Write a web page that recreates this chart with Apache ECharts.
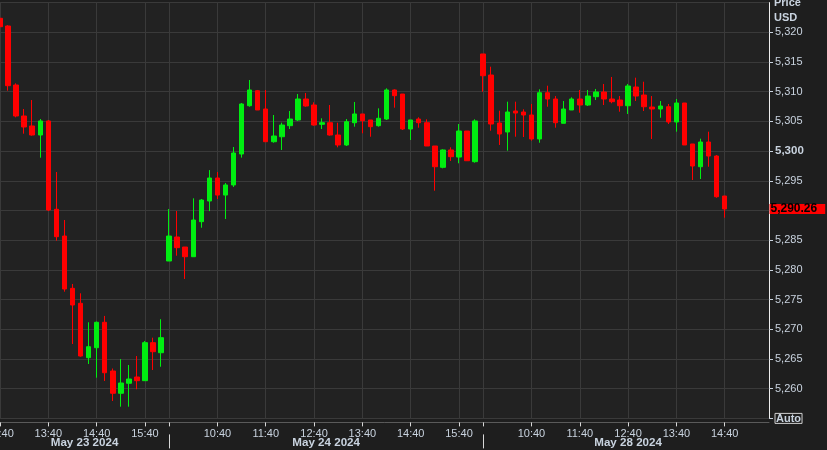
<!DOCTYPE html>
<html><head><meta charset="utf-8">
<script src="https://cdn.jsdelivr.net/npm/echarts@6/dist/echarts.min.js"></script>
<style>html,body{margin:0;padding:0;background:#1e1e1e}#c{width:827px;height:450px}</style>
</head><body><div id="c"></div>
<script>
// ---------- data ----------
const dayNames = ['May 23 2024', 'May 24 2024', 'May 28 2024'];
const timesMay23 = ['12:40','12:50','13:00','13:10','13:20','13:30','13:40','13:50','14:00','14:10','14:20','14:30','14:40','14:50','15:00','15:10','15:20','15:30','15:40','15:50','16:00'];
const timesMay24 = ['09:40','09:50','10:00','10:10','10:20','10:30','10:40','10:50','11:00','11:10','11:20','11:30','11:40','11:50','12:00','12:10','12:20','12:30','12:40','12:50','13:00','13:10','13:20','13:30','13:40','13:50','14:00','14:10','14:20','14:30','14:40','14:50','15:00','15:10','15:20','15:30','15:40','15:50','16:00'];
const timesMay28 = ['09:40','09:50','10:00','10:10','10:20','10:30','10:40','10:50','11:00','11:10','11:20','11:30','11:40','11:50','12:00','12:10','12:20','12:30','12:40','12:50','13:00','13:10','13:20','13:30','13:40','13:50','14:00','14:10','14:20','14:30','14:40'];
const timesAhead = ['14:50','15:00','15:10','15:20','15:30'];

const opens = [5322.36,5321.06,5311.13,5305.91,5304.23,5302.71,5305.07,5290.20,5285.70,5276.90,5274.38,5265.22,5266.90,5271.18,5262.98,5259.23,5260.91,5261.97,5261.35,5267.75,5266.06,
 5281.50,5285.54,5283.85,5282.22,5288.12,5291.60,5295.47,5292.60,5294.30,5299.51,5307.64,5310.17,5307.09,5301.58,5302.42,5304.28,5305.24,5308.77,5307.76,5304.51,5304.78,5302.71,5301.03,5304.78,5306.25,5305.24,5304.28,5305.40,5310.29,5309.61,5303.72,5305.40,5304.78,5300.86,5297.27,5300.19,5299.00,5303.38,5298.22,
 5316.35,5312.81,5304.73,5303.22,5306.75,5306.58,5306.08,5302.04,5309.83,5308.77,5304.68,5306.92,5308.77,5307.76,5309.16,5309.95,5308.77,5308.60,5307.64,5310.79,5309.44,5307.42,5307.09,5307.47,5304.90,5308.10,5301.20,5297.37,5301.53,5299.17,5292.44];
const closes = [5320.94,5311.01,5305.91,5304.06,5302.71,5305.07,5290.08,5285.59,5276.78,5274.09,5265.50,5267.07,5271.18,5262.69,5259.23,5260.96,5261.63,5261.35,5267.75,5266.23,5268.59,
 5285.70,5283.74,5282.22,5288.40,5291.76,5295.47,5292.60,5294.30,5299.68,5307.93,5310.29,5306.92,5301.58,5302.54,5304.39,5305.40,5308.77,5307.59,5304.39,5304.78,5302.71,5301.03,5304.95,5306.25,5305.12,5304.11,5305.52,5310.29,5309.33,5303.72,5305.24,5304.78,5300.86,5297.37,5300.19,5299.06,5303.38,5298.38,5305.07,
 5312.69,5304.56,5302.88,5306.58,5306.41,5306.08,5302.04,5309.83,5308.77,5304.78,5307.09,5308.77,5307.76,5309.27,5309.95,5308.77,5308.32,5307.64,5310.96,5309.27,5307.47,5307.09,5307.59,5304.90,5308.10,5301.03,5297.49,5301.53,5299.17,5292.32,5290.26];
const lows = [5320.90,5310.17,5305.69,5302.93,5302.60,5298.89,5289.92,5284.92,5276.33,5267.53,5265.39,5264.16,5261.85,5261.30,5257.93,5256.97,5256.97,5259.90,5261.35,5263.15,5263.70,
 5281.50,5282.39,5278.47,5282.22,5287.10,5289.90,5291.93,5288.57,5293.96,5298.90,5307.47,5306.92,5301.58,5301.41,5300.19,5303.72,5305.07,5307.47,5304.28,5303.72,5302.60,5300.64,5300.86,5304.11,5303.00,5302.42,5304.11,5305.24,5307.31,5303.55,5301.87,5303.94,5300.86,5293.33,5297.10,5298.33,5297.95,5298.38,5298.05,
 5310.00,5303.43,5301.03,5300.07,5302.42,5302.37,5301.75,5301.41,5307.47,5303.94,5304.68,5306.92,5306.46,5307.59,5308.60,5307.76,5308.05,5306.63,5306.25,5308.43,5306.75,5302.04,5305.62,5304.56,5303.27,5301.03,5295.13,5295.30,5297.37,5292.15,5288.79];
const highs = [5323.75,5321.20,5311.41,5307.09,5308.60,5305.40,5305.24,5296.48,5288.40,5277.63,5276.06,5271.18,5271.30,5272.25,5263.40,5264.99,5263.99,5265.50,5268.03,5268.59,5271.70,
 5290.25,5289.92,5283.85,5292.05,5291.93,5296.80,5296.48,5294.63,5300.69,5308.10,5311.97,5310.29,5310.29,5306.08,5304.78,5306.75,5309.61,5309.78,5308.21,5305.52,5307.76,5304.78,5305.40,5308.27,5306.25,5305.24,5307.20,5310.57,5310.40,5309.61,5305.24,5305.69,5305.35,5300.86,5300.30,5300.64,5304.56,5303.38,5305.35,
 5316.35,5314.21,5306.80,5308.32,5308.32,5307.04,5307.93,5310.40,5311.01,5309.27,5308.43,5309.05,5310.29,5310.29,5310.46,5311.30,5312.48,5309.27,5311.30,5312.36,5311.68,5309.27,5308.43,5307.93,5308.77,5308.10,5301.20,5302.09,5303.27,5299.34,5292.44];

const yMin = 5255, yMax = 5325, yStep = 5;

// ---------- derived ----------
const dayTimes = [timesMay23, timesMay24, timesMay28];
const categories = [].concat(timesMay23, timesMay24, timesMay28, timesAhead);
const N = categories.length;
const nData = opens.length;
const dayStarts = [];
{ let s = 0; dayTimes.forEach(t => { dayStarts.push(s); s += t.length; }); }
const candles = categories.map((c, i) => i < nData ? [opens[i], closes[i], lows[i], highs[i]] : '-');
const lastClose = closes[nData - 1];

const isDayStart = i => dayStarts.indexOf(i) > 0;
const isHour = i => i < nData && categories[i].endsWith(':40') && !isDayStart(i);
// secondary axis on half-category steps
const halfSlots = Array.from({length: 2 * N + 1}, (_, j) => 'h' + j);
const sepHalf = dayStarts.slice(1).map(s => 2 * s + 1);
const gridHalf = new Set(sepHalf);
categories.forEach((c, i) => { if (isHour(i)) gridHalf.add(2 * i + 1); });
const bounds = [1].concat(sepHalf, [2 * N]);
const dateLabelAt = new Map();
dayNames.forEach((d, k) => dateLabelAt.set(Math.round((bounds[k] + bounds[k + 1]) / 2), d));

const FONT = '"Liberation Sans", Arial, sans-serif';
const TXT = '#c9d3df';

const chart = echarts.init(document.getElementById('c'), null, {renderer: 'canvas'});
chart.setOption({
  animation: false,
  backgroundColor: '#1e1e1e',
  grid: { left: -4, right: 58, top: 2.6, bottom: 31.6, show: true, backgroundColor: '#222222', borderWidth: 0, containLabel: false, outerBoundsMode: 'none' },
  xAxis: [
    {
      type: 'category', data: categories, position: 'bottom', offset: 4,
      axisLine: { show: true, lineStyle: { color: '#5a5a5a' } },
      axisTick: { show: true, alignWithLabel: true, length: 4, interval: (i) => isHour(i) || isDayStart(i), lineStyle: { color: '#d8d8d8' } },
      axisLabel: { interval: (i) => isHour(i), formatter: v => v.replace(/^0/, ''), color: TXT, fontSize: 11, fontFamily: FONT, margin: 6, hideOverlap: false },
      splitLine: { show: false }
    },
    {
      type: 'category', data: halfSlots, position: 'bottom', offset: 16, boundaryGap: false,
      axisLine: { show: false },
      axisTick: { show: true, length: 14, interval: (j) => sepHalf.indexOf(j) >= 0, lineStyle: { color: '#d8d8d8' } },
      axisLabel: { interval: (j) => dateLabelAt.has(j), formatter: (v, j) => dateLabelAt.get(j) || '', color: TXT, fontSize: 11.6, fontWeight: 'bold', fontFamily: FONT, margin: 2 },
      splitLine: { show: true, interval: (j) => gridHalf.has(j), lineStyle: { color: '#3a3a3a' } }
    }
  ],
  yAxis: {
    type: 'value', position: 'right', min: yMin, max: yMax, interval: yStep,
    axisLine: { show: true, lineStyle: { color: '#eeeeee' } },
    axisTick: { show: true, length: 4, lineStyle: { color: TXT } },
    axisLabel: {
      margin: 6, color: TXT, fontSize: 11, fontFamily: FONT, showMaxLabel: false, showMinLabel: true,
      formatter: v => {
        if (v === yMin) return '{auto|Auto}';
        if (Math.abs(v - lastClose) < 2) return '';
        const s = v.toLocaleString('en-US');
        return v % 100 === 0 ? '{b|' + s + '}' : s;
      },
      rich: {
        b: { fontWeight: 'bold', fontSize: 11.5, color: TXT, fontFamily: FONT },
        auto: { fontWeight: 'bold', fontSize: 11, color: TXT, fontFamily: FONT, borderColor: '#cfcfcf', borderWidth: 1, padding: [0, 1, -1, 1], lineHeight: 12 }
      }
    },
    splitLine: { show: true, lineStyle: { color: '#3a3a3a' } }
  },
  series: [{
    type: 'candlestick', data: candles, barWidth: 5,
    itemStyle: { color: '#00ee11', color0: '#ff0000', borderColor: '#00ee11', borderColor0: '#ff0000', borderWidth: 1 }
  }]
});

// current-price tag, placed through the chart's own y scale
const gridRect = chart.getModel().getComponent('grid', 0).coordinateSystem.getRect();
const tagY = chart.convertToPixel({ yAxisIndex: 0 }, lastClose);
chart.setOption({
  graphic: [
    { type: 'text', left: 774, top: -5, style: { text: 'Price\nUSD', fill: TXT, font: 'bold 11px ' + FONT, lineHeight: 15 } },
    { type: 'line', shape: { x1: 0, y1: 422.5, x2: 17, y2: 422.5 }, style: { stroke: '#ffffff', lineWidth: 1 } },
    { type: 'line', shape: { x1: 748, y1: 422.5, x2: 769, y2: 422.5 }, style: { stroke: '#ffffff', lineWidth: 1 } },
    {
      type: 'text', x: gridRect.x + gridRect.width + 0.5, y: tagY, z: 100,
      style: {
        text: lastClose.toLocaleString('en-US', { minimumFractionDigits: 2, maximumFractionDigits: 2 }),
        fill: '#000000', font: 'bold 12px ' + FONT, backgroundColor: '#ff0000',
        padding: [0, 8, -1, 1], lineHeight: 11, align: 'left', verticalAlign: 'middle'
      }
    }
  ]
});
</script></body></html>
